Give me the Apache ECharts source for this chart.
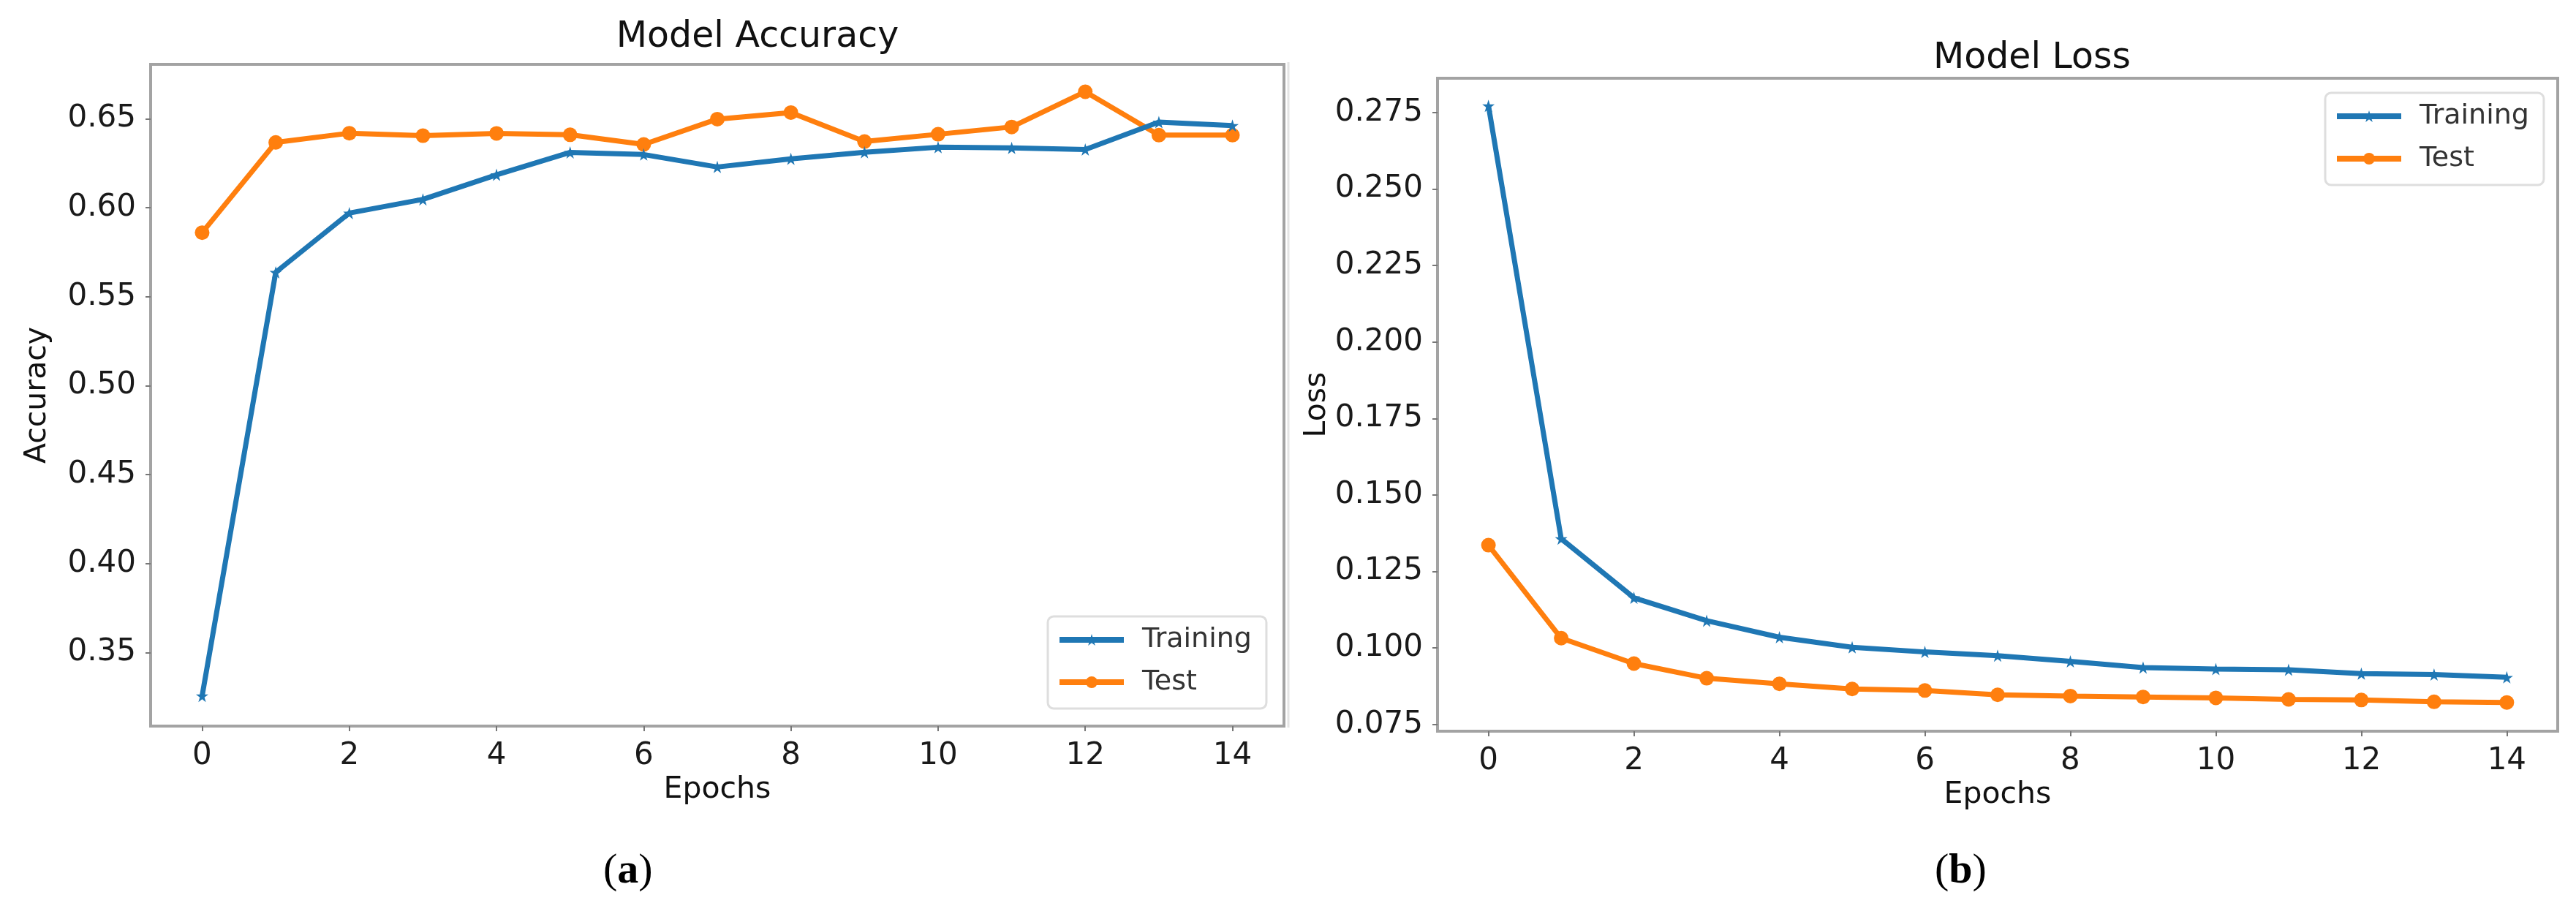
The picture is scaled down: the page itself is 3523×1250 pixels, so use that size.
<!DOCTYPE html>
<html>
<head>
<meta charset="utf-8">
<script src="https://cdn.jsdelivr.net/npm/echarts@6/dist/echarts.min.js"></script>
<style>
  html, body { margin: 0; padding: 0; background: #ffffff; }
  #chart { position: absolute; left: 0; top: 0; width: 3523px; height: 1250px; }
</style>
</head>
<body>
<div id="chart"></div>
<script>
// ---- data ----
const epochs = [0, 1, 2, 3, 4, 5, 6, 7, 8, 9, 10, 11, 12, 13, 14];
const accTrain = [0.3256, 0.5637, 0.5970, 0.6047, 0.6185, 0.6311, 0.6299, 0.6229, 0.6275, 0.6312, 0.6340, 0.6336, 0.6327, 0.6481, 0.6462];
const accTest  = [0.5860, 0.6367, 0.6419, 0.6405, 0.6418, 0.6410, 0.6356, 0.6498, 0.6535, 0.6372, 0.6413, 0.6454, 0.6652, 0.6408, 0.6408];
const lossTrain = [0.2772, 0.1357, 0.1164, 0.1089, 0.1035, 0.1002, 0.0987, 0.0975, 0.0956, 0.0936, 0.0931, 0.0929, 0.0916, 0.0913, 0.0904];
const lossTest  = [0.1336, 0.1032, 0.0949, 0.0901, 0.0883, 0.0866, 0.0861, 0.0847, 0.0843, 0.0840, 0.0837, 0.0832, 0.0830, 0.0824, 0.0822];
const xTicks = [0, 2, 4, 6, 8, 10, 12, 14];
const accTicks = [0.35, 0.40, 0.45, 0.50, 0.55, 0.60, 0.65];
const lossTicks = [0.075, 0.100, 0.125, 0.150, 0.175, 0.200, 0.225, 0.250, 0.275];
const seriesNames = ['Training', 'Test'];
const titles = ['Model Accuracy', 'Model Loss'];
const yNames = ['Accuracy', 'Loss'];
const xName = 'Epochs';

// ---- styling ----
const BLUE = '#1f77b4';
const ORANGE = '#ff7f0e';
const FONT = 'DejaVu Sans';
const STAR = 'path://M50,0 L61,35 L98,35 L68,57 L79,91 L50,70 L21,91 L32,57 L2,35 L39,35 Z';
const pairs = arr => epochs.map((e, i) => [e, arr[i]]);

const chart = echarts.init(document.getElementById('chart'), null, { renderer: 'canvas' });

function xAxisDef(gridIndex) {
  return {
    type: 'value', gridIndex, min: -0.7, max: 14.7,
    name: xName, nameLocation: 'middle', nameGap: 62,
    nameTextStyle: { fontFamily: FONT, fontSize: 41, color: '#111' },
    splitLine: { show: false },
    axisLine: { show: false, onZero: false },
    axisTick: { show: true, length: 7, inside: false, customValues: xTicks, lineStyle: { color: '#777', width: 2 } },
    axisLabel: { customValues: xTicks, fontFamily: FONT, fontSize: 42, color: '#1a1a1a', margin: 20, formatter: v => String(v) }
  };
}
function yAxisDef(gridIndex, min, max, ticks, dec, name, nameGap) {
  return {
    type: 'value', gridIndex, min, max,
    name, nameLocation: 'middle', nameGap,
    nameTextStyle: { fontFamily: FONT, fontSize: 41, color: '#111' },
    splitLine: { show: false },
    axisLine: { show: false, onZero: false },
    axisTick: { show: true, length: 7, inside: false, customValues: ticks, lineStyle: { color: '#777', width: 2 } },
    axisLabel: { customValues: ticks, fontFamily: FONT, fontSize: 42, color: '#1a1a1a', margin: 20, formatter: v => v.toFixed(dec) }
  };
}
function lineSeries(name, data, xi, color, symbol, size) {
  return {
    type: 'line', name, data, xAxisIndex: xi, yAxisIndex: xi,
    symbol, symbolSize: size, showSymbol: true,
    lineStyle: { color, width: 7 },
    itemStyle: { color, borderWidth: 0 },
    emphasis: { disabled: true },
    animation: false, z: name === 'Test' ? 3 : 4
  };
}
function legendDef(left, top) {
  return {
    data: seriesNames, orient: 'vertical', left, top,
    padding: [12, 20, 16, 12],
    itemWidth: 88, itemHeight: 20, itemGap: 18,
    backgroundColor: 'rgba(255,255,255,0.85)',
    borderColor: '#dedede', borderWidth: 3, borderRadius: 8,
    lineStyle: { width: 8 },
    textStyle: { fontFamily: FONT, fontSize: 38, color: '#333', lineHeight: 40, padding: [0, 0, 0, 20] }
  };
}

const option = {
  backgroundColor: '#ffffff',
  animation: false,
  title: [
    { text: titles[0], left: 1031, top: 46, textAlign: 'center', textVerticalAlign: 'middle',
      textStyle: { fontFamily: FONT, fontSize: 49, fontWeight: 'normal', color: '#111' } },
    { text: titles[1], left: 2774, top: 75, textAlign: 'center', textVerticalAlign: 'middle',
      textStyle: { fontFamily: FONT, fontSize: 49, fontWeight: 'normal', color: '#111' } }
  ],
  grid: [
    { left: 206, top: 88, width: 1550, height: 905, show: true, borderColor: '#a3a3a3', borderWidth: 4, backgroundColor: 'transparent' },
    { left: 1966, top: 107, width: 1532, height: 893, show: true, borderColor: '#a3a3a3', borderWidth: 4, backgroundColor: 'transparent' }
  ],
  xAxis: [xAxisDef(0), xAxisDef(1)],
  yAxis: [
    yAxisDef(0, 0.3086, 0.6806, accTicks, 2, yNames[0], 134),
    yAxisDef(1, 0.0728, 0.2862, lossTicks, 3, yNames[1], 137)
  ],
  legend: [legendDef(1433, 843), legendDef(3180, 127)],
  series: [
    lineSeries(seriesNames[0], pairs(accTrain), 0, BLUE, STAR, 17),
    lineSeries(seriesNames[1], pairs(accTest), 0, ORANGE, 'circle', 20),
    lineSeries(seriesNames[0], pairs(lossTrain), 1, BLUE, STAR, 17),
    lineSeries(seriesNames[1], pairs(lossTest), 1, ORANGE, 'circle', 20)
  ],
  graphic: [
    { type: 'line', shape: { x1: 1762, y1: 85, x2: 1762, y2: 995 }, style: { stroke: '#e4e4e4', lineWidth: 3 }, silent: true },
    { type: 'text', left: 861 - 36, top: 1163,
      style: { text: '{p|(}{b|a}{p|)}', rich: {
        p: { fontFamily: 'Liberation Serif', fontSize: 58, color: '#000' },
        b: { fontFamily: 'Liberation Serif', fontSize: 58, fontWeight: 'bold', color: '#000' } } } },
    { type: 'text', left: 2684 - 38, top: 1163,
      style: { text: '{p|(}{b|b}{p|)}', rich: {
        p: { fontFamily: 'Liberation Serif', fontSize: 58, color: '#000' },
        b: { fontFamily: 'Liberation Serif', fontSize: 58, fontWeight: 'bold', color: '#000' } } } }
  ]
};
chart.setOption(option);
</script>
</body>
</html>
